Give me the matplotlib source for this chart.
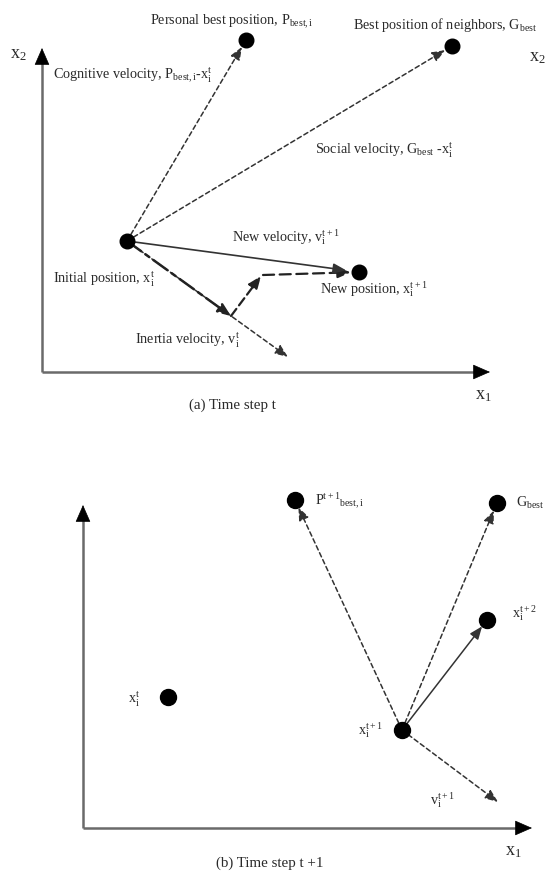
import matplotlib
matplotlib.use("Agg")
import matplotlib.pyplot as plt

plt.rcParams['font.family'] = ['Liberation Serif', 'DejaVu Serif']
plt.rcParams['mathtext.fontset'] = 'custom'
plt.rcParams['mathtext.rm'] = 'Liberation Serif'
plt.rcParams['mathtext.it'] = 'Liberation Serif:italic'

# ---------------- data: panel (a) time step t ----------------
a_initial = (85, 131)
a_pbest = (204, 332)
a_gbest = (410, 326)
a_new = (317, 100)
a_inertia_tip = (246, 15)
a_inertia_scaled = (189, 56)
a_social_step = (219, 96)
a_axis_len = (448, 324)

# ---------------- data: panel (b) time step t+1 ----------------
b_x_t = (85, 131)
b_pbest = (212, 328)
b_gbest = (414, 325)
b_x_t2 = (404, 208)
b_x_t1 = (319, 98)
b_v_tip = (415, 26)
b_axis_len = (449, 323)

# labels
a_labels = [
    ("Personal best position, P$_{\\mathrm{best,i}}$", (108, 350)),
    ("Cognitive velocity, P$_{\\mathrm{best,i}}$-x$_{\\mathrm{i}}^{\\mathrm{t}}$", (11, 297)),
    ("Best position of neighbors, G$_{\\mathrm{best}}$", (311, 347)),
    ("Social velocity, G$_{\\mathrm{best}}$ -x$_{\\mathrm{i}}^{\\mathrm{t}}$", (273, 222)),
    ("New velocity, v$_{\\mathrm{i}}^{\\mathrm{t+1}}$", (190, 135)),
    ("Initial position, x$_{\\mathrm{i}}^{\\mathrm{t}}$", (11, 93)),
    ("New position, x$_{\\mathrm{i}}^{\\mathrm{t+1}}$", (278, 83)),
    ("Inertia velocity, v$_{\\mathrm{i}}^{\\mathrm{t}}$", (93, 32)),
]
b_labels = [
    ("P$^{\\mathrm{t+1}}$$_{\\mathrm{best,i}}$", (232, 326)),
    ("G$_{\\mathrm{best}}$", (433, 325)),
    ("x$_{\\mathrm{i}}^{\\mathrm{t+2}}$", (429, 215)),
    ("x$_{\\mathrm{i}}^{\\mathrm{t+1}}$", (275, 98)),
    ("v$_{\\mathrm{i}}^{\\mathrm{t+1}}$", (347, 28)),
    ("x$_{\\mathrm{i}}^{\\mathrm{t}}$", (45, 129)),
]

W, H = 546, 874
fig = plt.figure(figsize=(W / 100, H / 100), dpi=100)

TXT = '#2a2a2a'
AX = '#6a6a6a'
FS = 10.2


def make_axes(top_px, bot_px, ox, oy):
    ax = fig.add_axes([0, 1 - bot_px / H, 1, (bot_px - top_px) / H])
    ax.set_xlim(-ox, W - ox)
    ax.set_ylim(oy - bot_px, oy - top_px)
    ax.axis('off')
    return ax


def arrow(ax, p0, p1, ls='-', lw=1.0, color='#333333', hl=0.55, hw=0.22, ms=14):
    ax.annotate('', xy=p1, xytext=p0,
                arrowprops=dict(arrowstyle=f'-|>,head_length={hl},head_width={hw}',
                                linestyle=ls, lw=lw, color=color,
                                shrinkA=0, shrinkB=0, mutation_scale=ms))


def shorten(p0, p1, d):
    dx, dy = p1[0] - p0[0], p1[1] - p0[1]
    L = (dx * dx + dy * dy) ** 0.5
    return (p1[0] - dx / L * d, p1[1] - dy / L * d)


def axes_lines(ax, length):
    ax.plot([0, 0], [0, length[1] - 6], color=AX, lw=1.8, solid_capstyle='butt')
    ax.plot([0, length[0] - 6], [0, 0], color=AX, lw=1.8, solid_capstyle='butt')
    arrow(ax, (0, length[1] - 12), (0, length[1]), color='black', lw=0.5, hl=0.8, hw=0.35)
    arrow(ax, (length[0] - 12, 0), (length[0], 0), color='black', lw=0.5, hl=0.8, hw=0.35)


DASH = (0, (3, 2))

# ---------------- panel (a) ----------------
axa = make_axes(0, 437, 42, 372)
axes_lines(axa, a_axis_len)
R = 8
arrow(axa, a_initial, shorten(a_initial, a_pbest, R), ls=DASH, lw=1.1)
arrow(axa, a_initial, shorten(a_initial, a_gbest, R), ls=DASH, lw=1.1)
arrow(axa, a_initial, a_inertia_tip, ls=DASH, lw=1.1)
arrow(axa, a_initial, a_inertia_scaled, ls=(0, (7, 2, 2, 2)), lw=1.8, color='#222222')
arrow(axa, a_inertia_scaled, a_social_step, ls=(0, (4, 2)), lw=1.6, color='#222222')
arrow(axa, (a_social_step[0] + 2, a_social_step[1] + 1), shorten(a_social_step, a_new, R),
      ls=(0, (5, 2.5)), lw=1.6, color='#222222')
arrow(axa, a_initial, shorten(a_initial, a_new, R + 5), ls='-', lw=1.2, color='#333333')
for p in [a_initial, a_pbest, a_gbest, a_new]:
    axa.plot(*p, 'o', color='black', ms=10.5, zorder=5)

for s, (x, y) in a_labels:
    axa.text(x, y, s, fontsize=FS, color=TXT, ha='left', va='center')
axa.text(-24, 317, "x$_2$", fontsize=13, color=TXT, ha='center', va='center')
axa.text(495, 314, "x$_2$", fontsize=13, color=TXT, ha='center', va='center')
axa.text(441, -23, "x$_1$", fontsize=13, color=TXT, ha='center', va='center')
axa.text(190, -33, "(a) Time step t", fontsize=10.8, color=TXT, ha='center', va='center')

# ---------------- panel (b) ----------------
axb = make_axes(437, 874, 83, 828)
axes_lines(axb, b_axis_len)
arrow(axb, b_x_t1, shorten(b_x_t1, b_pbest, R), ls=DASH, lw=1.1)
arrow(axb, b_x_t1, shorten(b_x_t1, b_gbest, R), ls=DASH, lw=1.1)
arrow(axb, b_x_t1, shorten(b_x_t1, b_x_t2, R), ls='-', lw=1.1)
arrow(axb, b_x_t1, b_v_tip, ls=DASH, lw=1.1)
for p in [b_x_t, b_pbest, b_gbest, b_x_t2, b_x_t1]:
    axb.plot(*p, 'o', color='black', ms=11.5, zorder=5)

for s, (x, y) in b_labels:
    axb.text(x, y, s, fontsize=FS, color=TXT, ha='left', va='center')
axb.text(430, -24, "x$_1$", fontsize=13, color=TXT, ha='center', va='center')
axb.text(187, -35, "(b) Time step t +1", fontsize=10.8, color=TXT, ha='center', va='center')

fig.savefig('out.png', dpi=100)
